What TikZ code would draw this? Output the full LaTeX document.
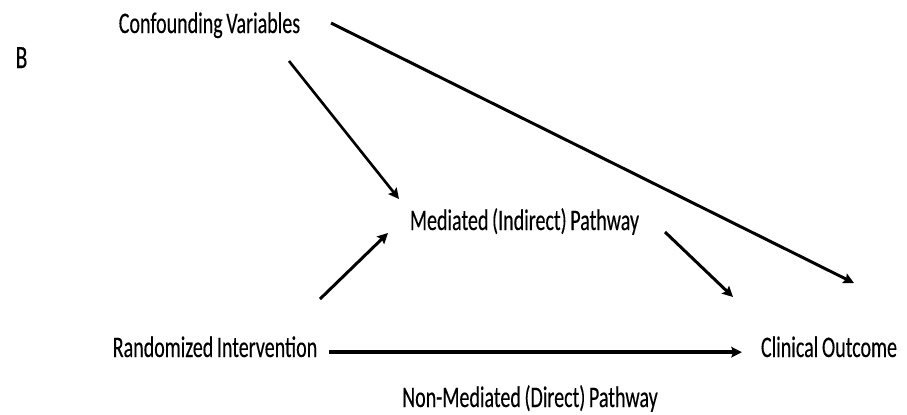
\documentclass[tikz,border=0pt]{standalone}
\usepackage{fontspec}
\setmainfont{Carlito}[FakeStretch=0.67,FakeBold=0.25,WordSpace=0.8]
\usetikzlibrary{arrows.meta}

\begin{document}
\begin{tikzpicture}[
    x=0.02cm, y=-0.02cm,
    >={Stealth[length=6pt,width=6pt,inset=1pt]},
    line width=1.7pt,
    factor/.style={font=\fontsize{17}{20}\selectfont,inner sep=0pt,anchor=base,text height=7.5pt,text depth=2pt},
    panel/.style={font=\fontsize{18.5}{22}\selectfont,inner sep=0pt,anchor=base}
  ]
  \useasboundingbox (0,0) rectangle (907,414);
  \node[panel]  (tag)    at (21.5,68)  {B};
  \node[factor] (conf)   at (209.5,33) {Confounding Variables};
  \node[factor] (med)    at (524.5,230) {Mediated (Indirect) Pathway};
  \node[factor] (rand)   at (215,357)  {Randomized Intervention};
  \node[factor] (clin)   at (829,357)  {Clinical Outcome};
  \node[factor] (direct) at (530,407)  {Non-Mediated (Direct) Pathway};
  % free ends of the slanted arrows
  \coordinate (conf-out) at (331,23);
  \coordinate (conf-med) at (289,61);
  \coordinate (rand-med) at (320,299);
  \coordinate (med-out)  at (665,232);
  \coordinate (out-top)  at (854,283);
  \coordinate (med-low)  at (399,199);
  \coordinate (med-left) at (388,233);
  \coordinate (out-left) at (733,297);
  \draw[->] (conf-out) -- (out-top);
  \draw[->, line width=1.5pt] (conf-med) -- (med-low);
  \draw[->] (rand-med) -- (med-left);
  \draw[->] (med-out) -- (out-left);
  \draw[->, line width=2.2pt, shorten <=5.7pt, shorten >=10pt] (rand.east) -- (clin.west);
\end{tikzpicture}
\end{document}
